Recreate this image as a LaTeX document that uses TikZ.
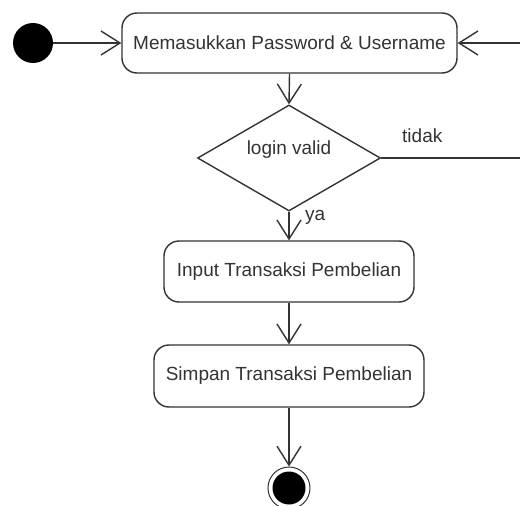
\documentclass[tikz,border=0pt]{standalone}
\usepackage{fontspec}
\setmainfont{Liberation Sans}
\usetikzlibrary{arrows.meta,shapes.geometric}
\begin{document}
\begin{tikzpicture}[x=1pt,y=-1pt,
  flow/.style={draw=black!80, line width=1.4pt,
    -{Straight Barb[length=19pt,width=24pt,line width=1.4pt]}},
  plainline/.style={draw=black!80, line width=1.4pt},
  action/.style={draw=black!80, line width=1.4pt, rounded corners=15pt,
    inner sep=0pt, text=black!80, font=\fontsize{19}{22}\selectfont},
  decision/.style={diamond, draw=black!80, line width=1.4pt, inner sep=0pt,
    minimum width=183pt, minimum height=106pt},
  lbl/.style={text=black!80, inner sep=0pt, font=\fontsize{19}{22}\selectfont}
]
\useasboundingbox (0,0) rectangle (520,506);
\clip (0,0) rectangle (520,506);

% initial and final states
\node[circle, fill=black, minimum size=40pt, inner sep=0pt] (start) at (33,43) {};
\node[circle, draw=black!80, line width=1pt, minimum size=42pt, inner sep=0pt] (final) at (289,488) {};
\node[circle, fill=black, minimum size=33pt, inner sep=0pt] (finaldot) at (final.center) {};

% actions
\node[action, minimum width=335pt, minimum height=60pt] (login) at (289.5,43) {Memasukkan Password \& Username};
\node[decision] (valid) at (289,158) {};
\node[lbl] (validtxt) at (289,150) {login valid};
\node[action, minimum width=250pt, minimum height=61pt] (input) at (289,271.5) {Input Transaksi Pembelian};
\node[action, minimum width=270pt, minimum height=62pt] (save) at (289,376) {Simpan Transaksi Pembelian};

% loop-back ends leaving the page on the right
\coordinate (backout) at (524,158);
\coordinate (backin) at (524,43);

% guard labels
\node[lbl, anchor=base west] (tidak) at (402,142) {tidak};
\node[lbl, anchor=base west] (ya) at (305,220) {ya};

% flows
\draw[flow] (start) -- (login.west);
\draw[flow] (backin) -- (login.east);
\draw[flow] (login.south) -- (valid.north);
\draw[plainline] (valid.east) -- (backout);
\draw[flow] (valid.south) -- (input.north);
\draw[flow] (input.south) -- (save.north);
\draw[flow] (save.south) -- (final.north);
\end{tikzpicture}
\end{document}
